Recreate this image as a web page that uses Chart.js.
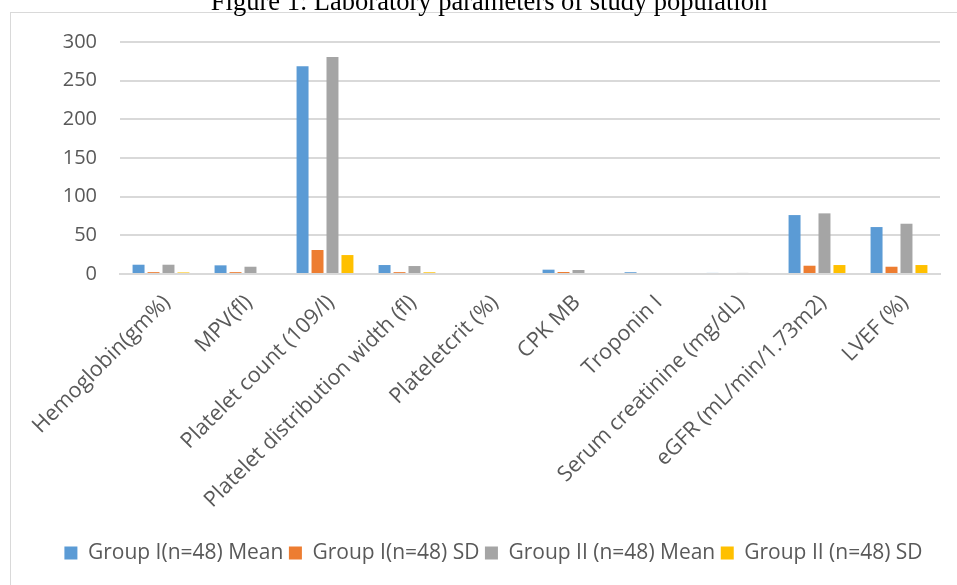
<!DOCTYPE html>
<html>
<head>
<meta charset="utf-8">
<script src="https://cdn.jsdelivr.net/npm/chart.js@4"></script>
<style>
  html, body { margin: 0; padding: 0; background: #fff; }
  #wrap { position: relative; width: 957px; height: 585px; }
</style>
</head>
<body>
<div id="wrap"><canvas id="chart" width="957" height="585"></canvas></div>
<script>
// Laboratory parameters, mean and SD per group
const figureTitle = 'Figure 1: Laboratory parameters of study population';

const categories = [
  'Hemoglobin(gm%)',
  'MPV(fl)',
  'Platelet count (109/l)',
  'Platelet distribution width (fl)',
  'Plateletcrit (%)',
  'CPK MB',
  'Troponin I',
  'Serum creatinine (mg/dL)',
  'eGFR (mL/min/1.73m2)',
  'LVEF (%)'
];

const seriesNames = [
  'Group I(n=48) Mean',
  'Group I(n=48) SD',
  'Group II (n=48) Mean',
  'Group II (n=48) SD'
];

const group1Mean = [12.0, 11.2, 268.7, 11.6, 0.3, 5.6, 2.3, 1.4, 76.2, 60.7];
const group1SD   = [2.4, 2.4, 31.0, 2.4, 0.1, 2.6, 0.6, 0.4, 10.7, 9.4];
const group2Mean = [12.0, 9.4, 280.7, 10.3, 0.3, 5.2, 1.0, 1.4, 78.4, 65.0];
const group2SD   = [2.0, 1.0, 24.5, 2.2, 0.1, 0.8, 0.6, 0.4, 11.6, 11.6];

const yTicks = [0, 50, 100, 150, 200, 250, 300];

const palette = ['#5B9BD5', '#ED7D31', '#A5A5A5', '#FFC000'];
const textColor = '#595959';
const gridColor = '#D9D9D9';

// Frame around the chart and the caption above it
const framePlugin = {
  id: 'frame',
  beforeDraw(chart) {
    const ctx = chart.ctx;
    ctx.save();
    ctx.fillStyle = '#ffffff';
    ctx.fillRect(0, 0, chart.width, chart.height);
    ctx.strokeStyle = gridColor;
    ctx.lineWidth = 1;
    ctx.strokeRect(10.5, 12.5, chart.width + 20, chart.height + 20);
    ctx.restore();
  },
  afterDraw(chart) {
    const ctx = chart.ctx;
    ctx.save();
    ctx.fillStyle = '#000000';
    ctx.font = '26.5px "Liberation Serif", "Times New Roman", serif';
    ctx.textAlign = 'center';
    ctx.textBaseline = 'alphabetic';
    ctx.fillText(figureTitle, 489, 9.5);
    ctx.restore();
  }
};

const seriesValues = [group1Mean, group1SD, group2Mean, group2SD];

new Chart(document.getElementById('chart'), {
  type: 'bar',
  data: {
    labels: categories,
    datasets: seriesNames.map((name, i) => ({
      label: name,
      data: seriesValues[i],
      backgroundColor: palette[i],
      borderWidth: 0,
      categoryPercentage: 0.73,
      barPercentage: 0.8
    }))
  },
  options: {
    responsive: false,
    animation: false,
    layout: { padding: { top: 42, right: 17, bottom: 11.5, left: 47 } },
    plugins: {
      title: { display: false },
      tooltip: { enabled: false },
      legend: {
        position: 'bottom',
        labels: {
          boxWidth: 13,
          boxHeight: 13,
          padding: 5.5,
          color: textColor,
          font: { family: '"Open Sans", sans-serif', size: 21 }
        }
      }
    },
    scales: {
      x: {
        grid: { display: false },
        // category axis line sits over the bar bases
        border: { display: true, color: gridColor, width: 2, z: 1 },
        ticks: {
          autoSkip: false,
          minRotation: 45,
          maxRotation: 45,
          padding: 8,
          labelOffset: 6,
          color: textColor,
          font: { family: '"Open Sans", sans-serif', size: 21.5 }
        },
        afterFit(scale) { scale.height = 263; }
      },
      y: {
        min: 0,
        max: 300,
        afterBuildTicks(scale) { scale.ticks = yTicks.map(v => ({ value: v })); },
        grid: { color: gridColor, lineWidth: 2, drawTicks: false },
        border: { display: false },
        ticks: {
          padding: 23,
          color: textColor,
          font: { family: '"Open Sans", sans-serif', size: 20 }
        },
        afterFit(scale) { scale.width = 73; }
      }
    }
  },
  plugins: [framePlugin]
});
</script>
</body>
</html>
